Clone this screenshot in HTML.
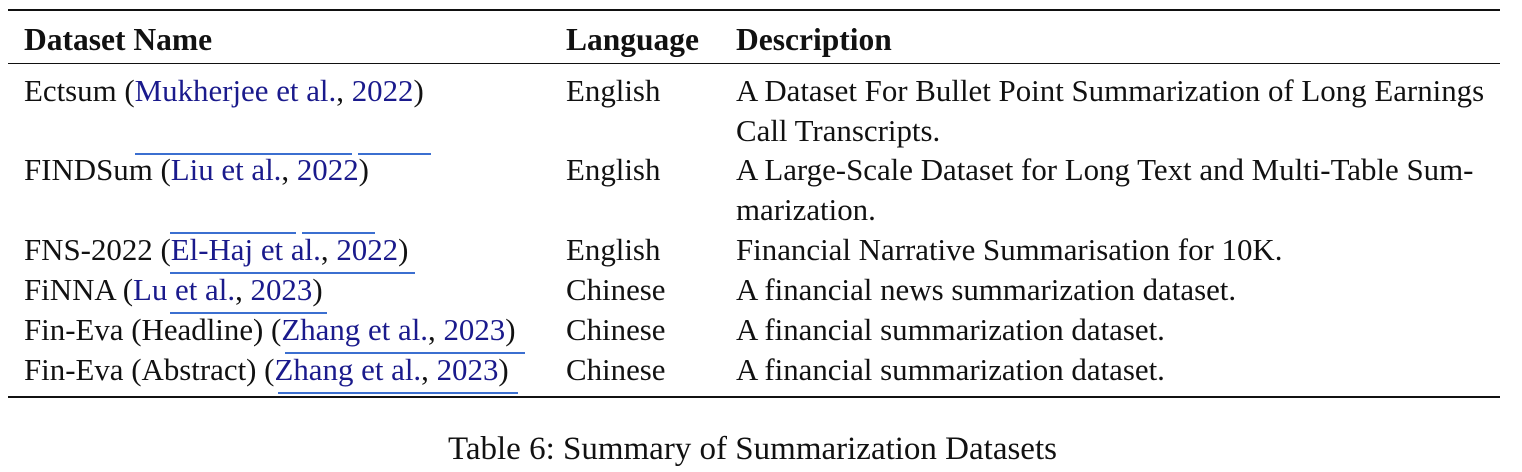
<!DOCTYPE html>
<html><head><meta charset="utf-8"><style>
body{margin:0;width:1522px;height:472px;background:#fff;position:relative;overflow:hidden;font-family:"Liberation Serif",serif;font-size:30.9px;color:#111}
.t{position:absolute;white-space:nowrap;line-height:1}
.r{position:absolute;background:#111;left:8px;width:1492px}
.u{position:absolute;height:1.5px;background:#3b6fd0}
a{color:#1a1a8c;text-decoration:none}
b{font-weight:bold;font-size:31.5px}
</style></head><body>
<div class="r" style="top:9px;height:2px"></div>
<div class="r" style="top:63px;height:1.2px"></div>
<div class="r" style="top:396px;height:2px"></div>

<div class="t" style="left:24px;top:24px"><b>Dataset Name</b></div>
<div class="t" style="left:566px;top:24px"><b>Language</b></div>
<div class="t" style="left:736px;top:24px"><b>Description</b></div>

<div class="t" style="left:24px;top:76px">Ectsum (<a>Mukherjee et al.</a>, <a>2022</a>)</div>
<div class="t" style="left:566px;top:76px">English</div>
<div class="t" style="left:736px;top:76px">A Dataset For Bullet Point Summarization of Long Earnings</div>
<div class="t" style="left:736px;top:116px">Call Transcripts.</div>

<div class="t" style="left:24px;top:155px">FINDSum (<a>Liu et al.</a>, <a>2022</a>)</div>
<div class="t" style="left:566px;top:155px">English</div>
<div class="t" style="left:736px;top:155px">A Large-Scale Dataset for Long Text and Multi-Table Sum-</div>
<div class="t" style="left:736px;top:195px">marization.</div>

<div class="t" style="left:24px;top:235px">FNS-2022 (<a>El-Haj et al.</a>, <a>2022</a>)</div>
<div class="t" style="left:566px;top:235px">English</div>
<div class="t" style="left:736px;top:235px">Financial Narrative Summarisation for 10K.</div>

<div class="t" style="left:24px;top:275px">FiNNA (<a>Lu et al.</a>, <a>2023</a>)</div>
<div class="t" style="left:566px;top:275px">Chinese</div>
<div class="t" style="left:736px;top:275px">A financial news summarization dataset.</div>

<div class="t" style="left:24px;top:315px">Fin-Eva (Headline) (<a>Zhang et al.</a>, <a>2023</a>)</div>
<div class="t" style="left:566px;top:315px">Chinese</div>
<div class="t" style="left:736px;top:315px">A financial summarization dataset.</div>

<div class="t" style="left:24px;top:355px">Fin-Eva (Abstract) (<a>Zhang et al.</a>, <a>2023</a>)</div>
<div class="t" style="left:566px;top:355px">Chinese</div>
<div class="t" style="left:736px;top:355px">A financial summarization dataset.</div>

<div class="u" style="left:135px;width:217px;top:153px"></div>
<div class="u" style="left:358px;width:73px;top:153px"></div>
<div class="u" style="left:170px;width:126px;top:232px"></div>
<div class="u" style="left:302px;width:73px;top:232px"></div>
<div class="u" style="left:170px;width:245px;top:272px"></div>
<div class="u" style="left:170px;width:157px;top:312px"></div>
<div class="u" style="left:285px;width:240px;top:352px"></div>
<div class="u" style="left:278px;width:240px;top:392px"></div>

<div class="t" style="left:0;width:1505px;text-align:center;top:433px;font-size:33px">Table 6: Summary of Summarization Datasets</div>
</body></html>
